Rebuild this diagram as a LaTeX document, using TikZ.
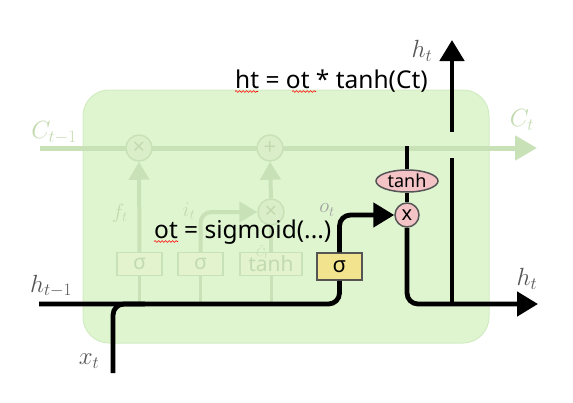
\documentclass[tikz,border=0pt]{standalone}
\usepackage{fontspec}
\usepackage{tikz}
\usetikzlibrary{arrows.meta,positioning,calc,shapes.geometric,decorations.pathmorphing}
\newfontfamily\notefont{Noto Sans}
\definecolor{CellFill}{HTML}{DFF5D0}
\definecolor{CellEdge}{HTML}{D2ECC2}
\definecolor{FadeLine}{HTML}{C8E1B6}
\definecolor{FadeFill}{HTML}{DAEFC9}
\definecolor{FadeBox}{HTML}{E3F3CD}
\definecolor{FadeText}{HTML}{C2DAAF}
\definecolor{GateYellow}{HTML}{F2E38E}
\definecolor{GatePink}{HTML}{F4C3C6}
\definecolor{LabelGray}{HTML}{555555}

\tikzset{
  flow/.style={line width=4.8pt,rounded corners=11pt},
  flowarrow/.style={flow,-{Triangle[length=21pt,width=24pt]}},
  fade/.style={FadeLine,line width=4pt,rounded corners=11pt},
  fadearrow/.style={fade,-{Triangle[length=18pt,width=20pt]}},
  fadeop/.style={circle,draw=FadeLine,fill=FadeFill,line width=1.5pt,minimum size=26pt,
    inner sep=0pt,text=FadeText,font=\fontsize{22}{22}\selectfont\notefont},
  fadegate/.style={rectangle,draw=FadeLine,fill=FadeBox,line width=1.2pt,minimum height=23pt,
    minimum width=45pt,inner sep=0pt,text=FadeText,font=\fontsize{21}{21}\selectfont\notefont},
  gate/.style={rectangle,draw=LabelGray,fill=GateYellow,line width=1.5pt,minimum height=27pt,
    minimum width=45pt,inner sep=0pt,font=\fontsize{22}{22}\selectfont\notefont},
  pinkop/.style={circle,draw=LabelGray,fill=GatePink,line width=1.5pt,minimum size=24pt,
    inner sep=0pt,font=\fontsize{20}{20}\selectfont\notefont},
  pinkfun/.style={ellipse,draw=LabelGray,fill=GatePink,line width=1.5pt,minimum width=62pt,
    minimum height=22pt,inner sep=0pt,font=\fontsize{18}{18}\selectfont\notefont},
  biglabel/.style={text=LabelGray,font=\fontsize{27}{27}\selectfont},
  fadelabel/.style={text=FadeText,font=\fontsize{27}{27}\selectfont},
  note/.style={anchor=base west,inner sep=0pt,font=\fontsize{24.5}{24.5}\selectfont\notefont},
  squiggle/.style={red,line width=0.6pt,decorate,decoration={snake,amplitude=0.9pt,segment length=3.5pt}}
}

\begin{document}
\begin{tikzpicture}[x=1pt,y=-1pt]
  \useasboundingbox (0,0) rectangle (573,402);
  % cell body
  \draw[fill=CellFill,draw=CellEdge,line width=1pt,rounded corners=26pt] (83,90) rectangle (489,343);

  % free ends
  \coordinate (cin) at (40,148);
  \coordinate (cout) at (537,148);
  \coordinate (hin) at (39,304);
  \coordinate (xin) at (113,373);
  \coordinate (xjoin) at (145,304);
  \coordinate (ctop) at (407,146);
  \coordinate (hout) at (538,304);
  \coordinate (hsplit) at (452,304);
  \coordinate (hgapa) at (452,158);
  \coordinate (hgapb) at (452,132);
  \coordinate (htop) at (452,40);

  % cell state (faded)
  \draw[fade,line width=5pt,-{Triangle[length=22pt,width=24pt]}] (cin) -- (cout);

  % faded gates
  \node[fadeop] (forgetmul) at (139,148) {×};
  \node[fadeop] (cellplus) at (270,148) {+};
  \node[fadeop] (inputmul) at (271,212) {×};
  \node[fadegate] (forgetgate) at (139.5,264) {σ};
  \node[fadegate] (inputgate) at (200.5,264) {σ};
  \node[fadegate,minimum width=62pt] (candgate) at (271,264) {tanh};

  \draw[fadearrow] (forgetgate.north) -- (forgetmul.south);
  \draw[fadearrow] (inputgate.north) |- (inputmul.west);
  \draw[fade] (candgate.north) -- (inputmul.south);
  \draw[fadearrow] (inputmul.north) -- (cellplus.south);
  \foreach \g in {forgetgate,inputgate,candgate}
    \draw[fade,line width=3pt] (\g.south) -- (\g.south |- hin);

  \node[fadelabel] (cprevlabel) at (54,133) {$C_{t-1}$};
  \node[fadelabel] (cnextlabel) at (522,120) {$C_t$};
  \node[fadelabel,font=\fontsize{22}{22}\selectfont,inner sep=0pt] (flabel) at (120,213) {$f_t$};
  \node[fadelabel,font=\fontsize{22}{22}\selectfont,inner sep=0pt] (ilabel) at (189,211) {$i_t$};
  \node[fadelabel,font=\fontsize{12}{12}\selectfont,anchor=north,inner sep=0pt] (ctlabel) at (262,245) {$\tilde{C}_t$};

  % output gate
  \node[gate] (outgate) at (339.5,266.5) {σ};
  \node[pinkop] (outmul) at (407,215) {x};
  \node[pinkfun] (outtanh) at (407,181) {tanh};

  \draw[flow] (hin) -| (outgate.south);
  \draw[flow] (xin) |- (xjoin);
  \draw[flowarrow] (outgate.north) |- (outmul.west);
  \draw[flow] (outtanh.north) -- (ctop);
  \draw[flow] (outtanh.south) -- (outmul.north);
  \draw[flowarrow] (outmul.south) |- (hout);
  \draw[flow] (hsplit) -- (hgapa);
  \draw[flowarrow] (hgapb) -- (htop);

  \node[biglabel] (hprevlabel) at (51,286) {$h_{t-1}$};
  \node[biglabel] (xlabel) at (89,361) {$x_t$};
  \node[biglabel] (hnextlabel) at (527,279) {$h_t$};
  \node[biglabel] (htoplabel) at (422,51) {$h_t$};
  \node[text=gray!75,font=\fontsize{21}{21}\selectfont] (olabel) at (327,210) {$o_t$};

  % notes
  \node[note] (hnote) at (235,88) {ht = ot * tanh(Ct)};
  \node[note] (onote) at (154,238) {ot = sigmoid(...)};
  \draw[squiggle] ($(hnote.base west)+(0,3.5)$) -- ++(23,0);
  \draw[squiggle] ($(hnote.base west)+(57,3.5)$) -- ++(24,0);
  \draw[squiggle] ($(onote.base west)+(0,3.5)$) -- ++(24,0);
\end{tikzpicture}
\end{document}
